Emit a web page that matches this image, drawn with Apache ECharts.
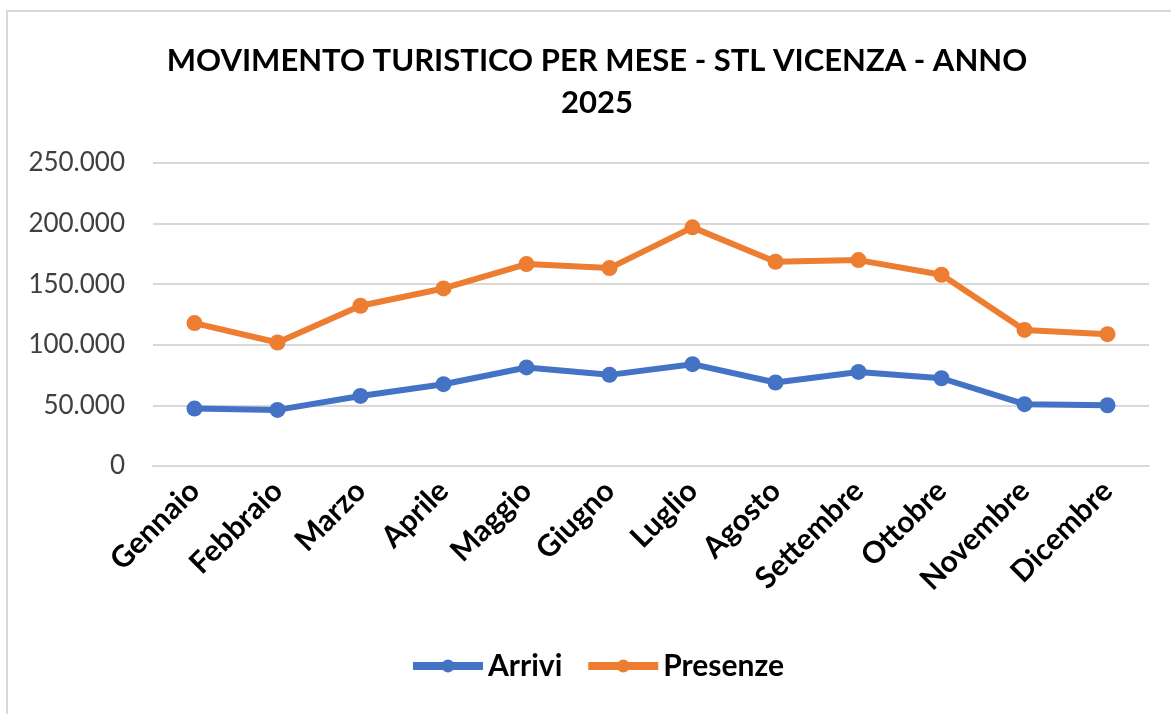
<!DOCTYPE html>
<html>
<head>
<meta charset="utf-8">
<script src="https://cdn.jsdelivr.net/npm/echarts@6/dist/echarts.min.js"></script>
<style>
  html, body { margin: 0; padding: 0; background: #fff; }
  #frame {
    position: absolute; left: 6px; top: 10px; width: 1180px; height: 720px;
    border: 2px solid #d9d9d9; box-sizing: border-box;
  }
  #main { position: absolute; left: 0; top: 0; width: 1171px; height: 714px; }
</style>
</head>
<body>
<div id="frame"></div>
<div id="main"></div>
<script>
// dati
var mesi = ['Gennaio', 'Febbraio', 'Marzo', 'Aprile', 'Maggio', 'Giugno',
            'Luglio', 'Agosto', 'Settembre', 'Ottobre', 'Novembre', 'Dicembre'];
var arrivi = [47400, 46300, 57800, 67500, 81300, 75200, 84000, 68900, 77600, 72400, 51000, 50100];
var presenze = [117900, 101900, 132200, 146500, 166600, 163300, 196900, 168500, 169900, 157800, 112300, 108800];
var titolo = 'MOVIMENTO TURISTICO PER MESE - STL VICENZA - ANNO\n2025';

var FONT = 'Lato';

function fmt(v) {
  return String(v).replace(/\B(?=(\d{3})+(?!\d))/g, '.');
}

var myChart = echarts.init(document.getElementById('main'));

var option = {
  backgroundColor: 'transparent',
  animation: false,
  title: {
    text: titolo,
    left: 592,
    textAlign: 'center',
    top: 35,
    textStyle: {
      fontFamily: FONT,
      fontWeight: 'bold',
      fontSize: 31,
      lineHeight: 42,
      color: '#000'
    }
  },
  grid: {
    left: 153,
    right: 22,
    top: 163,
    bottom: 248
  },
  legend: {
    bottom: 28,
    left: 404,
    itemWidth: 70,
    itemHeight: 16,
    itemGap: 22,
    lineStyle: { width: 8 },
    textStyle: {
      fontFamily: FONT,
      fontWeight: 'bold',
      fontSize: 30,
      color: '#000'
    },
    data: ['Arrivi', 'Presenze']
  },
  xAxis: {
    type: 'category',
    data: mesi,
    axisLine: { show: true, lineStyle: { color: '#d9d9d9', width: 2 } },
    axisTick: { show: false },
    axisLabel: {
      rotate: 45,
      margin: 20,
      interval: 0,
      fontFamily: FONT,
      fontWeight: 'bold',
      fontSize: 30,
      color: '#000'
    }
  },
  yAxis: {
    type: 'value',
    min: 0,
    max: 250000,
    interval: 50000,
    axisLine: { show: false },
    axisTick: { show: false },
    splitLine: { lineStyle: { color: '#d9d9d9', width: 2 } },
    axisLabel: {
      margin: 28,
      fontFamily: FONT,
      fontSize: 26,
      color: '#404040',
      formatter: fmt
    }
  },
  series: [
    {
      name: 'Arrivi',
      type: 'line',
      data: arrivi,
      symbol: 'circle',
      symbolSize: 16,
      lineStyle: { width: 6, color: '#4472C4' },
      itemStyle: { color: '#4472C4' }
    },
    {
      name: 'Presenze',
      type: 'line',
      data: presenze,
      symbol: 'circle',
      symbolSize: 16,
      lineStyle: { width: 6, color: '#ED7D31' },
      itemStyle: { color: '#ED7D31' }
    }
  ]
};

myChart.setOption(option);
</script>
</body>
</html>
